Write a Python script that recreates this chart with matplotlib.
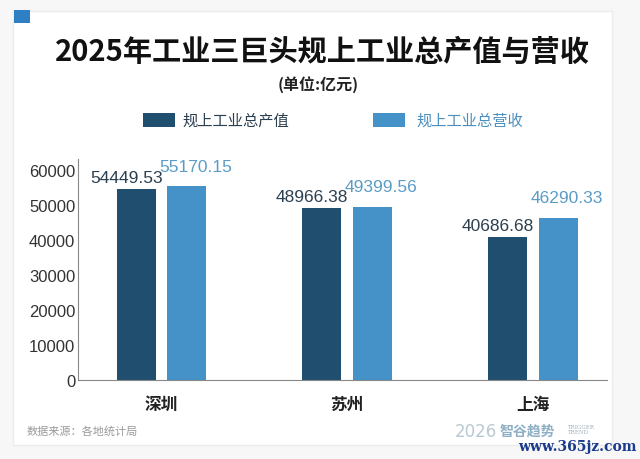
import matplotlib
matplotlib.use("Agg")
import matplotlib.pyplot as plt
from matplotlib.patches import Rectangle
import numpy as np

plt.rcParams['font.family'] = ['Noto Sans CJK SC', 'DejaVu Sans']

cities = ["深圳", "苏州", "上海"]
output_value = [54449.53, 48966.38, 40686.68]
revenue = [55170.15, 49399.56, 46290.33]
series_names = ["规上工业总产值", "规上工业总营收"]
yticks = [0, 10000, 20000, 30000, 40000, 50000, 60000]

title = "2025年工业三巨头规上工业总产值与营收"
subtitle = "(单位:亿元)"
source = "数据来源：各地统计局"

DARK = "#1f4e6e"
LIGHT = "#4592c8"
DARK_TXT = "#2b3f4f"
LIGHT_TXT = "#5b9cc6"

fig = plt.figure(figsize=(6.4, 4.6), dpi=100)
fig.patch.set_facecolor("#f7f7f7")

# card
card = Rectangle((13/640, 1-446/460), (612-13)/640, (446-12)/460,
                 transform=fig.transFigure, facecolor="white", edgecolor="#ececec",
                 linewidth=1, zorder=-5)
fig.patches.append(card)
icon = Rectangle((14/640, 1-24/460), 16/640, 13/460, transform=fig.transFigure,
                 facecolor="#2f7fc4", edgecolor="none", zorder=-4)
fig.patches.append(icon)

fig.text(322/640, 1-52/460, title, ha="center", va="center", fontsize=21,
         fontweight="heavy", color="#111111")
fig.text(318/640, 1-85/460, subtitle, ha="center", va="center", fontsize=11.5,
         fontweight="bold", color="#222222")

# legend
fig.patches.append(Rectangle((143/640, 1-128/460), 32/640, 14/460, transform=fig.transFigure,
                             facecolor=DARK, edgecolor="none", zorder=-4))
fig.text(182/640, 1-121/460, series_names[0], ha="left", va="center", fontsize=11,
         color="#2b3f4f")
fig.patches.append(Rectangle((373/640, 1-128/460), 32/640, 14/460, transform=fig.transFigure,
                             facecolor=LIGHT, edgecolor="none", zorder=-4))
fig.text(416/640, 1-121/460, series_names[1], ha="left", va="center", fontsize=11,
         color="#4b8fbf")

ax = fig.add_axes([78/640, 1-381/460, (607-78)/640, (381-160)/460])
ax.set_facecolor("none")
ax.set_zorder(2)
x = np.arange(len(cities))
w = 0.21
off = 0.137
ax.bar(x - off, output_value, w, color=DARK, zorder=2)
ax.bar(x + off, revenue, w, color=LIGHT, zorder=2)

for xi, v in zip(x, output_value):
    ax.annotate(f"{v:.2f}", (xi - off, v), xytext=(-7, 3), textcoords="offset points",
                ha="center", va="bottom", fontsize=12.5, color=DARK_TXT,
                family="Liberation Sans")
for xi, v in zip(x, revenue):
    ax.annotate(f"{v:.2f}", (xi + off, v), xytext=(6, 9), textcoords="offset points",
                ha="center", va="bottom", fontsize=12.5, color=LIGHT_TXT,
                family="Liberation Sans")

ax.set_xlim(-0.45, 2.40)
ax.set_ylim(0, 63000)
ax.set_yticks(yticks)
ax.set_yticklabels([str(t) for t in yticks], family="Liberation Sans", fontsize=12,
                   color="#333333")
ax.set_xticks(x)
ax.set_xticklabels(cities, fontsize=12, fontweight="bold", color="#222222")
ax.tick_params(axis="y", length=0, pad=2)
ax.tick_params(axis="x", length=0, pad=11)
for s in ["top", "right"]:
    ax.spines[s].set_visible(False)
ax.spines["left"].set_color("#888888")
ax.spines["bottom"].set_color("#888888")

fig.text(27/640, 1-431/460, source, ha="left", va="center", fontsize=8, color="#9a9a9a")
fig.text(455/640, 1-432/460, "2026", ha="left", va="center", fontsize=12,
         color="#b9c9d2", family="DejaVu Sans")
fig.text(500/640, 1-432/460, "智谷趋势", ha="left", va="center", fontsize=10,
         fontweight="bold", color="#8fb0c4")
fig.text(567/640, 1-430/460, "TRIGGER\nTREND", ha="left", va="center", fontsize=4,
         color="#a0b0ba", family="DejaVu Serif", linespacing=1.2)
fig.text(518/640, 1-447/460, "www.365jz.com", ha="left", va="center", fontsize=10,
         fontweight="bold", color="#1a3a8c", family="DejaVu Serif")

fig.savefig("out.png", dpi=100, facecolor=fig.get_facecolor())
